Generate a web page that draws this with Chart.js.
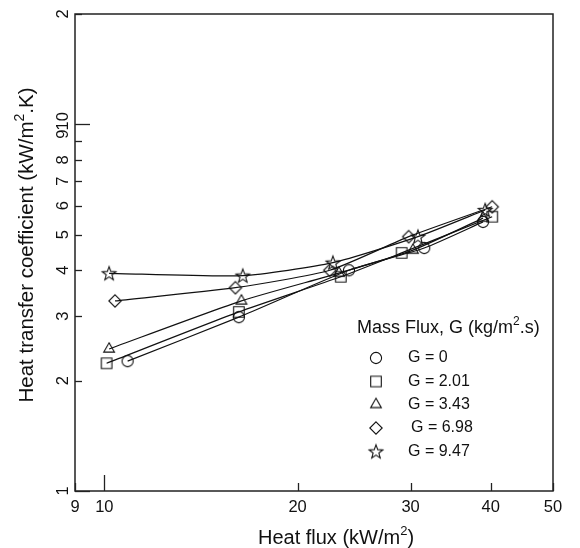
<!DOCTYPE html>
<html><head><meta charset="utf-8">
<script src="https://cdn.jsdelivr.net/npm/chart.js@4.4.1/dist/chart.umd.min.js"></script>
<style>html,body{margin:0;padding:0;background:#fff}</style>
</head><body>
<canvas id="c" width="580" height="548"></canvas>
<script>
// ---- data ----
const seriesLabels = ['G = 0', 'G = 2.01', 'G = 3.43', 'G = 6.98', 'G = 9.47'];
const fluxG0   = [10.87, 16.2, 24.05, 31.5, 38.9];
const htcG0    = [2.26, 2.98, 4.0, 4.6, 5.42];
const fluxG201 = [10.08, 16.2, 23.35, 29.05, 40.2];
const htcG201  = [2.23, 3.08, 3.84, 4.46, 5.6];
const fluxG343 = [10.17, 16.35, 23.2, 30.25, 38.9];
const htcG343  = [2.44, 3.30, 3.93, 4.54, 5.55];
const fluxG698 = [10.39, 16.0, 22.45, 29.8, 40.2];
const htcG698  = [3.30, 3.585, 4.0, 4.94, 5.96];
const fluxG947 = [10.17, 16.43, 22.7, 30.8, 39.2];
const htcG947  = [3.925, 3.867, 4.195, 4.94, 5.84];
const xTickValues = [9, 10, 20, 30, 40, 50];
const xTickLabels = ['9', '10', '20', '30', '40', '50'];
const yTickValues = [1, 2, 3, 4, 5, 6, 7, 8, 9, 10, 20];
const yTickLabels = ['1', '2', '3', '4', '5', '6', '7', '8', '9', '10', '2'];
const legendTitle = [['Mass Flux, G (kg/m', false], ['2', true], ['.s)', false]];
const xTitle = [['Heat flux (kW/m', false], ['2', true], [')', false]];
const yTitle = [['Heat transfer coefficient (kW/m', false], ['2', true], ['.K)', false]];

const FONT = '"Liberation Sans", Arial, Helvetica, sans-serif';
const INK = '#111';

// ---- marker images ----
function makeMarker(kind) {
  const s = 18, c = document.createElement('canvas');
  c.width = s; c.height = s;
  const g = c.getContext('2d');
  g.strokeStyle = INK; g.lineWidth = 1.1; g.lineJoin = 'miter';
  const m = s / 2;
  g.beginPath();
  if (kind === 'circle') {
    g.arc(m, m, 5.6, 0, Math.PI * 2);
  } else if (kind === 'square') {
    g.rect(m - 5.3, m - 5.3, 10.6, 10.6);
  } else if (kind === 'triangle') {
    const r = 6.2;
    g.moveTo(m, m - r);
    g.lineTo(m + r * Math.cos(Math.PI / 6), m + r / 2);
    g.lineTo(m - r * Math.cos(Math.PI / 6), m + r / 2);
    g.closePath();
  } else if (kind === 'diamond') {
    const r = 6.2;
    g.moveTo(m, m - r); g.lineTo(m + r, m); g.lineTo(m, m + r); g.lineTo(m - r, m); g.closePath();
  } else if (kind === 'star') {
    const R = 7.2, r = 3.0;
    for (let i = 0; i < 10; i++) {
      const a = -Math.PI / 2 + i * Math.PI / 5;
      const rr = i % 2 === 0 ? R : r;
      const px = m + rr * Math.cos(a), py = m + 0.6 + rr * Math.sin(a);
      if (i === 0) g.moveTo(px, py); else g.lineTo(px, py);
    }
    g.closePath();
  }
  g.stroke();
  return c;
}
const markerKinds = ['circle', 'square', 'triangle', 'diamond', 'star'];
const markers = markerKinds.map(makeMarker);

const fluxSets = [fluxG0, fluxG201, fluxG343, fluxG698, fluxG947];
const htcSets = [htcG0, htcG201, htcG343, htcG698, htcG947];

const datasets = seriesLabels.map((lab, i) => ({
  label: lab,
  data: fluxSets[i].map((x, j) => ({ x: x, y: htcSets[i][j] })),
  showLine: true,
  borderColor: INK,
  borderWidth: 1.2,
  backgroundColor: 'rgba(0,0,0,0)',
  tension: 0.2,
  pointStyle: markers[i],
  pointRadius: 6,
  fill: false
}));

function drawRich(ctx, parts, x, y, size, align) {
  const supSize = Math.round(size * 0.66);
  let total = 0;
  const widths = parts.map(([t, sup]) => {
    ctx.font = (sup ? supSize : size) + 'px ' + FONT;
    const w = ctx.measureText(t).width; total += w; return w;
  });
  let cx = align === 'center' ? x - total / 2 : x;
  ctx.textAlign = 'left';
  ctx.textBaseline = 'middle';
  parts.forEach(([t, sup], i) => {
    ctx.font = (sup ? supSize : size) + 'px ' + FONT;
    ctx.fillText(t, cx, sup ? y - size * 0.33 : y);
    cx += widths[i];
  });
}

const decor = {
  id: 'decor',
  afterDraw(chart) {
    const ctx = chart.ctx, xs = chart.scales.x, ys = chart.scales.y;
    const a = chart.chartArea;
    ctx.save();
    ctx.strokeStyle = '#222';
    ctx.fillStyle = INK;
    ctx.lineWidth = 1.5;
    ctx.strokeRect(a.left, a.top, a.right - a.left, a.bottom - a.top);
    // y ticks
    ctx.lineWidth = 1.3;
    yTickValues.forEach((v, i) => {
      const py = Math.round(ys.getPixelForValue(v)) + 0.5;
      const len = (v === 1 || v === 10) ? 15 : 7;
      ctx.beginPath(); ctx.moveTo(a.left, py); ctx.lineTo(a.left + len, py); ctx.stroke();
      ctx.save();
      let ly = ys.getPixelForValue(v);
      if (yTickLabels[i] === '9') ly -= 7;
      if (yTickLabels[i] === '10') ly -= 3;
      ctx.translate(63, ly);
      ctx.rotate(-Math.PI / 2);
      ctx.font = '16.5px ' + FONT;
      ctx.textAlign = 'center'; ctx.textBaseline = 'middle';
      ctx.fillText(yTickLabels[i], 0, 0);
      ctx.restore();
    });
    // x ticks
    xTickValues.forEach((v, i) => {
      const px = Math.round(xs.getPixelForValue(v)) + 0.5;
      const len = v === 10 ? 16 : 8;
      ctx.beginPath(); ctx.moveTo(px, a.bottom); ctx.lineTo(px, a.bottom - len); ctx.stroke();
      ctx.font = '16.5px ' + FONT;
      ctx.textAlign = 'center'; ctx.textBaseline = 'middle';
      ctx.fillText(xTickLabels[i], xs.getPixelForValue(v), 507);
    });
    // titles
    drawRich(ctx, xTitle, 336, 538, 20, 'center');
    ctx.save();
    ctx.translate(27, 245);
    ctx.rotate(-Math.PI / 2);
    drawRich(ctx, yTitle, 0, 0, 20.5, 'center');
    ctx.restore();
    // legend
    drawRich(ctx, legendTitle, 357, 328, 18, 'left');
    const rowY = [358, 381.5, 404.5, 428, 451.5];
    seriesLabels.forEach((lab, i) => {
      const m = markers[i];
      ctx.drawImage(m, 376 - m.width / 2, rowY[i] - m.height / 2);
      ctx.font = '16px ' + FONT;
      ctx.textAlign = 'left'; ctx.textBaseline = 'middle';
      ctx.fillText(lab, i === 3 ? 411 : 408, rowY[i]);
    });
    ctx.restore();
  }
};

new Chart(document.getElementById('c'), {
  type: 'scatter',
  data: { datasets },
  options: {
    responsive: false,
    animation: false,
    layout: { padding: { left: 0, top: 14, right: 27, bottom: 0 }, autoPadding: false },
    plugins: { legend: { display: false }, tooltip: { enabled: false } },
    scales: {
      x: {
        type: 'logarithmic', min: 9, max: 50,
        grid: { display: false }, border: { display: false },
        ticks: { display: false }, title: { display: false },
        afterFit(s) { s.height = 57; }
      },
      y: {
        type: 'logarithmic', min: 1, max: 20,
        grid: { display: false }, border: { display: false },
        ticks: { display: false }, title: { display: false },
        afterFit(s) { s.width = 75; }
      }
    }
  },
  plugins: [decor]
});
</script>
</body></html>
